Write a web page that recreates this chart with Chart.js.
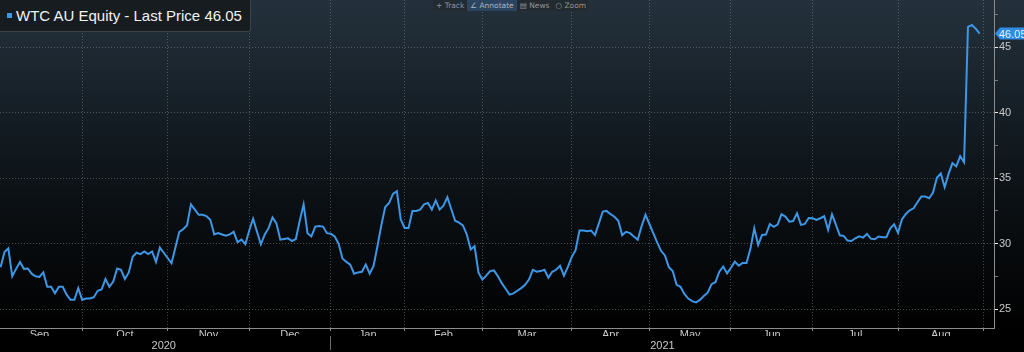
<!DOCTYPE html>
<html>
<head>
    <title>WTC AU Equity - Last Price</title>
    <script src="https://cdn.jsdelivr.net/npm/chart.js@4.4.0/dist/chart.umd.min.js"></script>
    <style>
        body {
            margin: 0;
            padding: 0;
            overflow: hidden;
            background-color: black;
        }
        .chart-box {
            position: relative;
            width: 1024px;
            height: 352px;
            background: linear-gradient(to bottom, #24313c 0px, #18222a 90px, #0b1014 200px, #030405 300px, #000 328px, #000 352px);
        }
        #priceChart {
            position: absolute;
            left: 0;
            top: 0;
        }
        .legend {
            position: absolute;
            left: 0;
            top: 0;
            width: 251px;
            height: 32px;
            box-sizing: border-box;
            background-color: #171c21;
            border: 1px solid #3c4248;
            border-top: none;
            border-left: none;
            border-radius: 0 0 3px 0;
            color: #f2f2f2;
            font: 15px "Liberation Sans", Arial, sans-serif;
            line-height: 31px;
            padding-left: 16px;
            white-space: nowrap;
        }
        .legend .mark {
            position: absolute;
            left: 7px;
            top: 13px;
            width: 5px;
            height: 5px;
            background-color: #3d97e6;
        }
        .toolbar {
            position: absolute;
            left: 433px;
            top: 0;
            height: 11px;
            display: flex;
            background-color: #232a30;
            border-radius: 0 0 2px 2px;
            font: 7.5px "DejaVu Sans", sans-serif;
            line-height: 11px;
            color: #8f979e;
        }
        .toolbar span {
            padding: 0 3px;
        }
        .toolbar span.on {
            background-color: #2b4560;
            color: #a9b6c2;
        }
    </style>
</head>
<body>
    <div class="chart-box">
        <canvas id="priceChart" width="1024" height="352"></canvas>
        <div class="legend"><div class="mark"></div>WTC AU Equity - Last Price 46.05</div>
        <div class="toolbar">
            <span>+ Track</span><span class="on">&#8736; Annotate</span><span>&#9636; News</span><span>&#9675; Zoom</span>
        </div>
    </div>
    <script>
        // meses y primer dia de cotizacion de cada mes (indice de la serie)
        const months = ['Sep', 'Oct', 'Nov', 'Dec', 'Jan', 'Feb', 'Mar', 'Apr', 'May', 'Jun', 'Jul', 'Aug'];
        const monthStart = [-1, 21, 43, 64, 85, 104, 124, 147, 167, 188, 209, 231, 253];
        const years = ['2020', '2021'];
        const yearStart = [-1, 85];
        const yTicks = [25, 27.5, 30, 32.5, 35, 37.5, 40, 42.5, 45, 47.5];
        const lastPrice = 46.05;

        // precio de cierre diario
        const prices = [
            28.2, 29.36, 29.64, 27.5, 28.07, 28.6, 28.07, 28.1, 27.7, 27.5,
            27.45, 27.8, 26.7, 26.7, 26.2, 26.7, 26.7, 26.1, 25.7, 25.7,
            26.6, 25.7, 25.8, 25.8, 25.9, 26.4, 26.5, 27.3, 26.7, 27.1,
            28.1, 28.0, 27.3, 27.8, 29.0, 29.3, 29.2, 29.4, 29.2, 29.4,
            28.6, 29.7, 29.3, 28.9, 28.5, 29.7, 30.9, 31.1, 31.4, 33.0,
            32.6, 32.2, 32.2, 32.1, 31.8, 30.7, 30.8, 30.7, 30.6, 30.7,
            30.9, 30.1, 30.3, 29.95, 31.0, 31.9, 30.9, 29.95, 30.7, 31.2,
            32.0, 31.55, 30.3, 30.35, 30.4, 30.2, 30.35, 31.75, 33.0, 30.8,
            30.55, 31.3, 31.35, 31.3, 30.8, 30.75, 30.55, 30.0, 28.87, 28.6,
            28.4, 27.7, 27.8, 27.85, 28.4, 27.7, 28.3, 29.8, 31.4, 32.8,
            33.1, 33.8, 34.0, 31.85, 31.2, 31.2, 32.5, 32.5, 32.6, 33.0,
            33.1, 32.6, 33.3, 32.6, 32.9, 33.55, 32.65, 31.75, 31.6, 31.4,
            30.7, 29.55, 29.8, 27.8, 27.25, 27.55, 27.9, 27.95, 27.5, 26.98,
            26.55, 26.1, 26.2, 26.4, 26.6, 26.85, 27.25, 28.0, 27.85, 27.9,
            28.0, 27.4, 27.85, 28.0, 28.3, 27.55, 28.2, 28.97, 29.5, 31.0,
            31.0, 30.95, 31.0, 30.65, 31.55, 32.45, 32.5, 32.25, 32.05, 31.75,
            30.65, 30.9, 30.8, 30.55, 30.3, 31.35, 32.2, 31.5, 30.8, 30.1,
            29.45, 29.1, 28.2, 27.9, 26.85, 26.7, 26.15, 25.8, 25.6, 25.5,
            25.7, 26.0, 26.25, 26.9, 27.05, 27.85, 28.25, 27.72, 28.15, 28.62,
            28.32, 28.52, 28.52, 29.6, 31.17, 29.9, 30.66, 30.69, 31.5, 31.28,
            31.45, 32.24, 32.07, 31.68, 31.73, 32.32, 31.43, 31.5, 31.96, 31.94,
            31.81, 31.94, 32.09, 31.05, 32.24, 31.45, 30.64, 30.59, 30.23, 30.2,
            30.41, 30.56, 30.46, 30.74, 30.38, 30.33, 30.54, 30.48, 30.48, 31.17,
            31.48, 30.82, 31.84, 32.27, 32.55, 32.7, 33.16, 33.6, 33.6, 33.47,
            33.9, 35.03, 35.36, 34.31, 35.33, 36.15, 35.9, 36.68, 36.22, 46.56,
            46.71, 46.43, 46.05
        ];

        const gridColor = 'rgba(150, 150, 150, 0.45)';
        const labelColor = '#c8c8c8';
        const axisFont = { family: 'Liberation Sans', size: 11 };

        // ticks del eje x: limites de mes (rejilla) y centros de mes (etiqueta)
        const monthTicks = [];
        const monthLabels = {};
        months.forEach((m, k) => {
            const mid = (monthStart[k] + monthStart[k + 1]) / 2;
            monthTicks.push(mid);
            monthLabels[mid] = m;
            monthTicks.push(monthStart[k + 1]);
        });
        const isBoundary = v => monthStart.indexOf(v) > 0;

        // sin margenes extra alrededor del area del grafico
        const noPad = s => {
            s.paddingTop = 0;
            s.paddingBottom = 0;
            s.paddingLeft = 0;
            s.paddingRight = 0;
        };

        // etiqueta con el ultimo precio en el eje derecho
        const lastPriceTag = {
            id: 'lastPriceTag',
            afterDraw(chart) {
                const c = chart.ctx;
                const y = chart.scales.y.getPixelForValue(lastPrice);
                const x = chart.chartArea.right + 1;
                c.save();
                c.fillStyle = '#2f8de4';
                c.beginPath();
                c.moveTo(x, y);
                c.lineTo(x + 5, y - 6);
                c.lineTo(1024, y - 6);
                c.lineTo(1024, y + 6);
                c.lineTo(x + 5, y + 6);
                c.closePath();
                c.fill();
                c.fillStyle = '#e6f2ff';
                c.font = '11px "Liberation Sans"';
                c.textBaseline = 'middle';
                c.fillText(lastPrice.toFixed(2), x + 4, y + 1);
                c.restore();
            }
        };

        const ctx = document.getElementById('priceChart').getContext('2d');
        const priceChart = new Chart(ctx, {
            type: 'line',
            data: {
                datasets: [{
                    data: prices.map((v, i) => ({ x: i, y: v })),
                    borderColor: '#3d97e6',
                    borderWidth: 2,
                    pointRadius: 0,
                    tension: 0,
                    fill: false
                }]
            },
            options: {
                responsive: false,
                animation: false,
                layout: { padding: 0 },
                plugins: {
                    legend: { display: false },
                    tooltip: { enabled: false }
                },
                scales: {
                    x: {
                        type: 'linear',
                        position: 'bottom',
                        min: -0.15,
                        max: 255.7,
                        weight: 0,
                        afterBuildTicks: s => { s.ticks = monthTicks.map(v => ({ value: v })); },
                        afterFit: s => { s.height = 8; noPad(s); },
                        ticks: {
                            autoSkip: false,
                            maxRotation: 0,
                            padding: -3,
                            color: labelColor,
                            font: axisFont,
                            callback: v => monthLabels[v] || ''
                        },
                        grid: {
                            color: c => isBoundary(c.tick.value) ? gridColor : 'transparent',
                            tickColor: c => isBoundary(c.tick.value) ? '#8c8c8c' : 'transparent',
                            tickLength: 3
                        },
                        border: { display: true, color: '#8c8c8c', dash: [1, 2] }
                    },
                    yr: {
                        type: 'linear',
                        position: 'bottom',
                        min: -0.15,
                        max: 255.7,
                        weight: 1,
                        afterBuildTicks: s => {
                            s.ticks = [
                                { value: (yearStart[0] + yearStart[1]) / 2 },
                                { value: yearStart[1] },
                                { value: (yearStart[1] + s.max) / 2 }
                            ];
                        },
                        afterFit: s => { s.height = 16; noPad(s); },
                        ticks: {
                            autoSkip: false,
                            maxRotation: 0,
                            padding: -11,
                            color: labelColor,
                            font: axisFont,
                            callback: (v, i) => i === 0 ? years[0] : (i === 2 ? years[1] : '')
                        },
                        grid: {
                            drawOnChartArea: false,
                            color: 'transparent',
                            tickColor: c => c.tick.value === yearStart[1] ? '#6e6e6e' : 'transparent',
                            tickLength: 14
                        },
                        border: { display: false }
                    },
                    y: {
                        position: 'right',
                        min: 23.55,
                        max: 48.62,
                        afterBuildTicks: s => { s.ticks = yTicks.map(v => ({ value: v })); },
                        afterFit: s => { s.width = 30; noPad(s); },
                        ticks: {
                            padding: 1,
                            color: labelColor,
                            font: axisFont,
                            callback: v => v % 5 === 0 ? v : ''
                        },
                        grid: {
                            color: c => c.tick && c.tick.value % 5 === 0 ? gridColor : 'transparent',
                            tickColor: c => c.tick && c.tick.value % 5 === 0 ? '#f0f0f0' : '#777777',
                            tickLength: 4
                        },
                        border: { display: true, color: '#8c8c8c', dash: [1, 2] }
                    }
                }
            },
            plugins: [lastPriceTag]
        });
    </script>
</body>
</html>
